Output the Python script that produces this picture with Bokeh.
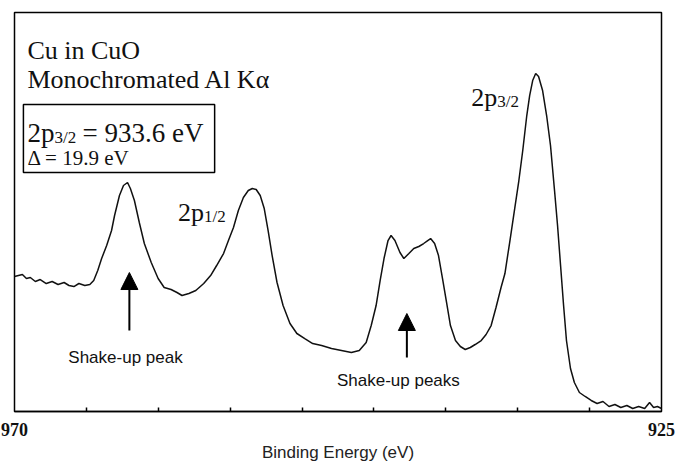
from bokeh.plotting import figure
from bokeh.models import Range1d, FixedTicker, Label, Arrow, NormalHead, BoxAnnotation
from bokeh.embed import file_html
from bokeh.resources import INLINE

# Cu 2p spectrum of CuO (arbitrary intensity units)
binding_energy = [
    970.00, 969.45, 969.17, 968.90, 968.55, 968.21, 967.79, 967.38, 966.97, 966.55,
    966.21, 965.87, 965.52, 965.11, 964.76, 964.49, 964.21, 963.94, 963.59, 963.25,
    963.04, 962.70, 962.42, 962.14, 961.94, 961.66, 961.32, 960.97, 960.49, 960.01,
    959.59, 959.11, 958.70, 958.35, 957.87, 957.39, 956.84, 956.36, 955.94, 955.46,
    955.12, 954.77, 954.43, 954.08, 953.74, 953.46, 953.19, 952.91, 952.63, 952.36,
    952.08, 951.74, 951.32, 950.84, 950.36, 949.81, 949.26, 948.64, 947.95, 947.26,
    946.57, 946.02, 945.54, 945.19, 944.85, 944.57, 944.30, 944.02, 943.81, 943.54,
    943.19, 942.92, 942.57, 942.23, 941.88, 941.54, 941.26, 941.06, 940.78, 940.51,
    940.23, 939.95, 939.68, 939.33, 938.99, 938.65, 938.30, 937.96, 937.54, 937.20,
    936.85, 936.51, 936.16, 935.89, 935.54, 935.20, 934.92, 934.65, 934.37, 934.17,
    933.96, 933.75, 933.55, 933.27, 932.99, 932.72, 932.44, 932.23, 932.02, 931.81,
    931.61, 931.33, 931.06, 930.71, 930.31, 929.89, 929.48, 929.07, 928.65, 928.24,
    927.83, 927.41, 927.00, 926.59, 926.17, 925.83, 925.55, 925.28, 925.00,
]
intensity = [
    33.83, 34.33, 33.33, 33.58, 32.58, 33.08, 32.08, 32.58, 31.83, 32.33,
    31.58, 31.32, 32.08, 31.58, 31.83, 32.83, 35.33, 38.34, 41.60, 45.36,
    49.12, 54.13, 56.64, 57.39, 55.88, 52.88, 47.36, 42.10, 37.34, 33.33,
    31.07, 30.57, 29.82, 29.07, 29.57, 30.32, 32.08, 34.08, 36.59, 39.59,
    42.85, 46.11, 50.37, 53.63, 55.38, 55.88, 55.63, 54.13, 50.87, 45.36,
    39.09, 32.33, 26.56, 22.05, 19.55, 18.29, 17.04, 16.54, 15.79, 15.29,
    14.79, 15.29, 17.29, 21.55, 26.56, 32.83, 38.34, 42.85, 44.11, 42.85,
    39.85, 38.34, 39.59, 40.85, 41.35, 42.10, 42.85, 43.35, 42.10, 39.09,
    33.33, 27.32, 21.55, 17.79, 16.29, 15.54, 16.04, 16.79, 17.79, 19.30,
    21.55, 26.06, 31.07, 34.58, 42.85, 51.12, 57.89, 65.41, 74.18, 79.19,
    82.95, 84.70, 83.95, 80.44, 74.18, 66.66, 55.38, 46.61, 36.59, 26.56,
    17.79, 10.78, 7.27, 4.76, 3.76, 2.76, 2.00, 2.51, 1.25, 1.75,
    1.00, 1.50, 0.75, 1.25, 0.75, 2.26, 1.00, 1.25, 0.75,
]

tick_values = [970, 925]
tick_labels = ["970", "925"]
minor_tick_values = [965, 960, 955, 950, 945, 940, 935, 930]

SERIF = "Liberation Serif"
SANS = "Liberation Sans"

p = figure(width=675, height=465, x_range=Range1d(970, 925), y_range=Range1d(0, 100),
           output_backend="svg", toolbar_location=None, y_axis_location=None,
           min_border_left=14, min_border_right=14, min_border_top=12, min_border_bottom=54)
p.grid.visible = False
p.background_fill_color = "white"
p.border_fill_color = "white"
p.outline_line_color = "black"
p.outline_line_width = 1.5
p.outline_line_alpha = 1.0

xa = p.xaxis[0]
xa.ticker = FixedTicker(ticks=tick_values, minor_ticks=minor_tick_values)
xa.major_label_overrides = {v: t for v, t in zip(tick_values, tick_labels)}
xa.axis_line_color = "black"
xa.axis_line_width = 1.5
xa.major_tick_in = 0
xa.major_tick_out = 0
xa.minor_tick_in = 4
xa.minor_tick_out = 0
xa.minor_tick_line_color = "black"
xa.minor_tick_line_width = 1.5
xa.major_label_standoff = 11
xa.major_label_text_font = SERIF
xa.major_label_text_font_style = "bold"
xa.major_label_text_font_size = "18px"
xa.major_label_text_color = "#111111"
xa.axis_label = "Binding Energy (eV)"
xa.axis_label_text_font = SANS
xa.axis_label_text_font_style = "normal"
xa.axis_label_text_font_size = "17px"
xa.axis_label_text_color = "#222222"
xa.axis_label_standoff = 4

# spectrum
p.line(binding_energy, intensity, line_color="#111111", line_width=1.5)


def lab(x, y, text, size, font=SERIF, align="left", xo=0):
    p.add_layout(Label(x=x, y=y, text=text, text_align=align, text_baseline="alphabetic",
                       x_offset=xo, text_font=font, text_font_size=size,
                       text_color="#111111"))


lab(969.10, 90.47, "Cu in CuO", "26px")
lab(969.10, 83.20, "Monochromated Al Kα", "26px")

p.add_layout(BoxAnnotation(left=969.38, right=956.08, top=76.93, bottom=59.89,
                           fill_color=None, line_color="black", line_width=1.5, line_alpha=1.0))
lab(969.10, 69.92, "2p", "27px")
lab(969.10, 68.66, "3/2", "17px", xo=27)
lab(969.10, 69.92, "= 933.6 eV", "27px", xo=55)
lab(969.10, 63.65, "Δ = 19.9 eV", "21px")

lab(958.63, 49.87, "2p", "26px")
lab(958.63, 48.87, "1/2", "17px", xo=26)
lab(938.23, 78.69, "2p", "26px")
lab(938.23, 77.69, "3/2", "17px", xo=26)

lab(962.28, 13.53, "Shake-up peak", "17px", font=SANS, align="center")
lab(943.30, 7.77, "Shake-up peaks", "17px", font=SANS, align="center")

p.add_layout(Arrow(end=NormalHead(size=17, fill_color="black", line_color="black"),
                   x_start=962.01, y_start=20.30, x_end=962.01, y_end=34.83,
                   line_width=2, line_color="black"))
p.add_layout(Arrow(end=NormalHead(size=17, fill_color="black", line_color="black"),
                   x_start=942.71, y_start=13.53, x_end=942.71, y_end=24.56,
                   line_width=2, line_color="black"))

open("out.html", "w").write(file_html(p, INLINE))
